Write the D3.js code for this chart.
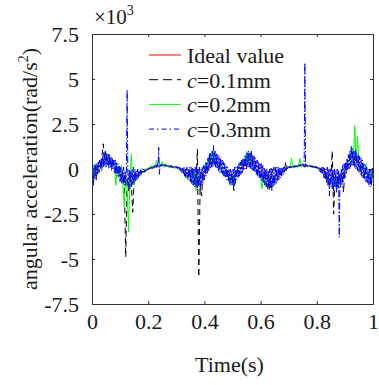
<!DOCTYPE html>
<html>
<head>
<meta charset="utf-8">
<script src="https://cdn.jsdelivr.net/npm/d3@7"></script>
<style>
  body { margin: 0; background: #fff; }
  svg { display: block; font-family: "Liberation Serif", "Times New Roman", serif; }
  .axis path, .axis line { stroke: #333; }
  .axis text { fill: #1a1a1a; font-size: 22px; font-family: "Liberation Serif", serif; }
</style>
</head>
<body>
<div id="chart"></div>
<script>
// values in x10^3 rad/s^2, time in s
const xTicks = [0, 0.2, 0.4, 0.6, 0.8, 1]
const yTicks = [-7.5, -5, -2.5, 0, 2.5, 5, 7.5]

const ideal = [
  [0, -0.3], [0.02, 0], [0.046, 0.55], [0.08, 0.2], [0.1, -0.25], [0.13, -0.55], [0.16, -0.3],
  [0.2, 0], [0.25, 0.2], [0.3, 0.1], [0.35, -0.3], [0.38, -0.5], [0.4, -0.2], [0.43, 0.5],
  [0.46, 0.2], [0.5, -0.4], [0.53, 0], [0.56, 0.5], [0.6, 0], [0.63, -0.5], [0.66, -0.3],
  [0.7, 0.1], [0.75, 0.2], [0.8, 0.1], [0.85, -0.3], [0.87, -0.6], [0.9, -0.1], [0.93, 0.6],
  [0.96, 0.1], [1, -0.4],
]

// c = 0.1 mm, sampled every 5 ms
const stepC01 = 0.005
const c01 = [
  -0.3, -0.8, 0.1, -0.4, 0.2, 0.1, 0.3, 0.6, 1.4, 0.4,
  0.7, 0.3, 0.8, 0.2, 0.6, 0.3, 0.3, 0, -0.2, -0.1,
  -0.3, -0.6, -0.5, -0.9, -4.9, -0.5, -1.2, -0.4, -0.8, -2.4,
  -0.6, -0.2, -0.5, -0.3, -0.2, -0.1, -0.15, -0.05, -0.1, 0,
  0.05, 0, 0.1, 0.05, 0.1, 0.15, 0.2, 0.15, 0.2, 0.2,
  0.2, 0.25, 0.15, 0.2, 0.15, 0.1, 0.15, 0.1, 0.1, 0.05,
  0.05, 0.1, 0, -0.1, -0.1, -0.2, -0.2, -0.5, -0.3, -0.2,
  -0.7, -0.1, -0.5, -0.2, -0.8, 1.1, -6.0, -0.8, -1.5, -0.3,
  -0.3, 0, 0.2, 0.4, 0.6, 0.3, 0.4, 0.9, 0.7, 0.3,
  0.1, 0.4, 0.3, 0, -0.3, 0, -0.2, -0.4, -0.6, -0.3,
  -0.4, -1.2, -0.5, -0.2, -0.1, 0.1, 0, 0.2, 0.4, 0.2,
  0.6, 0.3, 0.3, 0.8, 0.7, 0.2, 0, 0.2, -0.2, 0,
  -0.4, -0.2, -0.6, -0.3, -0.9, -0.3, -1.2, -0.4, -1.0, -0.6,
  -0.5, -0.3, -0.3, -0.2, -0.2, -0.1, -0.1, 0, 0.4, 0.05,
  0.1, 0.1, 0.1, 0.15, 0.1, 0.15, 0.15, 0.2, 0.2, 0.25,
  0.3, 0.2, 0.15, 0.2, 0.15, 0.15, 0.15, 0.1, 0.1, 0.1,
  0.05, 0, -0.1, -0.2, -0.1, -0.3, -0.5, -0.2, -0.9, -0.3,
  -0.4, 1.0, -2.5, -0.6, -0.8, -1.0, -0.3, -0.7, -0.4, -1.3,
  -0.1, 0.1, 0.3, 0.5, 0.7, 0.4, 0.4, 0.8, 0.5, 0.3,
  0.1, 0.2, 0, -0.1, -0.3, -0.2, -0.5, -0.4, -0.6, -0.5,
  -0.3,
]

// c = 0.2 mm, sampled every 5 ms
const stepC02 = 0.005
const c02 = [
  0.2, -0.4, 0.3, -0.3, -0.2, 0.3, 0.4, 0.1, 0.1, 0.6,
  0.9, 0.2, 0.7, 0.3, 0, 0.5, 0.4, -0.9, 0.1, -0.1,
  -0.4, 0.2, -0.8, -2.1, -0.3, -1.0, -3.5, -0.5, 0.8, -0.7,
  -0.9, -0.3, -0.5, -0.2, -0.1, 0, 0, -0.05, 0, 0,
  0.05, 0.1, 0.2, 0.1, 0.05, 0.1, 0.5, 0.1, 0.2, 0.15,
  0.4, 0.1, 0.3, 0.2, 0.15, 0.1, 0.1, 0.15, 0.1, 0.05,
  0.05, 0.05, 0, -0.1, -0.1, -0.05, -0.2, -0.3, -0.6, 0,
  -0.4, 0, -0.9, 0, -1.2, -0.3, -0.8, -0.2, -0.2, 0.1,
  -0.1, 0.4, 0, 0.5, 0.9, 0.3, 1.0, 0.3, 0.7, 0.2,
  0.1, 0.4, 0.3, -0.1, -0.4, 0, -0.1, -0.5, -0.9, -0.3,
  -0.3, -0.8, -0.2, -0.3, 0, 0.1, 0.3, 0.2, 0.6, 0.2,
  1.0, 0.3, 0.9, 0.2, 0.6, 0.2, 0, -0.1, -0.3, -0.1,
  -0.5, -1.1, -0.4, -0.6, -0.8, -0.3, -0.5, -0.7, -1.0, -0.4,
  -0.6, -0.2, -0.2, -0.3, -0.3, 0, 0.1, -0.1, -0.1, 0.05,
  0.05, 0.1, 0.6, 0.05, 0.1, 0.15, 0.2, 0.15, 0.6, 0.1,
  0.3, 0.2, 0.2, 0.15, 0.15, 0.2, 0.15, 0.1, 0.1, 0.1,
  0.05, 0, 0, -0.1, -0.1, -0.2, -0.3, -0.4, -0.6, -0.3,
  -0.4, -0.6, -0.8, -0.5, -0.5, -0.9, -0.7, -0.4, -0.2, 0,
  0, 0.3, 0.5, 0.2, 0.3, 1.2, 0.4, 2.4, 0.5, 1.8,
  0.2, 0.3, -0.1, 0, -0.3, 0.3, -0.5, -0.2, -0.3, -0.8,
  -0.3,
]

// c = 0.3 mm, sampled every 2.5 ms
const stepC03 = 0.0025
const c03 = [
  -0.6, 0.1, -0.9, 0.2, -0.5, 0.2, -0.6, 0.3, -0.3, 0.4, -0.2, 0.5, 0, 0.6, -0.1, 0.7, 0.1, 0.9, 0.2, 1.0,
  0.1, 0.9, 0.2, 0.8, 0, 0.8, 0.1, 0.7, -0.1, 0.6, 0, 0.5, -0.2, 0.5, -0.3, 0.4, -0.4, 0.3, -0.5, 0.2,
  -0.7, 0.1, -0.8, 0, -0.8, 0.1, -0.9, -0.1, -0.9, 0, 4.4, -0.2, -1.0, 0, -1.1, -0.1, -1.0, 0, -0.9, 0.1,
  -0.8, 0, -0.7, -0.1, -0.6, 0, -0.5, -0.1, -0.4, 0, -0.3, -0.1, -0.2, 0, -0.2, -0.05, -0.15, 0, -0.1, 0,
  -0.05, 0.05, 0, 0.1, 0, 0.1, 0.05, 0.15, 0.05, 0.2, 0.1, 0.2, 0.05, 0.3, 0.1, 1.2, -0.3, 0.25, 0.15, 0.25,
  0.15, 0.25, 0.2, 0.25, 0.15, 0.25, 0.15, 0.2, 0.1, 0.2, 0.15, 0.2, 0.1, 0.2, 0.1, 0.15, 0.05, 0.15, 0.1, 0.15,
  0.05, 0.15, 0, 0.1, -0.05, 0.1, -0.1, 0.05, -0.2, 0.05, -0.3, 0.1, -0.4, 0.05, -0.4, 0.1, -0.5, 0, -0.6, 0.1,
  -0.7, 0.1, -0.8, 0.1, -0.9, 0, -1.0, 0.1, -1.0, 0.2, -1.1, 0, -1.0, 0.1, -1.2, 0, -0.9, 0.1, -0.8, 0.2,
  -0.6, 0.3, -0.4, 0.4, -0.3, 0.6, -0.1, 0.8, 0, 0.9, 0.1, 1.0, 0.1, 1.3, 0.2, 1.0, 0.1, 0.9, 0, 0.8,
  -0.1, 0.7, -0.2, 0.6, -0.2, 0.5, -0.3, 0.4, -0.4, 0.3, -0.5, 0.2, -0.6, 0.1, -0.7, 0, -0.8, 0, -0.9, -0.1,
  -0.9, 0, -1.0, 0.1, -0.8, 0.1, -0.6, 0.2, -0.5, 0.3, -0.4, 0.4, -0.3, 0.5, -0.2, 0.6, -0.1, 0.7, 0, 0.8,
  0, 0.9, 0.1, 1.0, 0.1, 0.9, 0, 1.0, -0.1, 0.8, -0.1, 0.7, -0.2, 0.6, -0.3, 0.5, -0.4, 0.4, -0.5, 0.3,
  -0.5, 0.3, -0.7, 0.2, -0.8, 0.1, -0.9, 0, -1.0, 0, -1.1, -0.1, -1.0, 0, -1.1, 0.1, -1.2, 0, -1.0, 0.1,
  -0.9, 0.1, -0.8, 0.1, -0.7, 0.1, -0.6, 0.05, -0.5, 0.1, -0.4, 0.05, -0.3, 0.1, -0.2, 0.1, -0.1, 0.1, 0, 0.1,
  0.05, 0.15, 0.05, 0.15, 0.05, 0.15, 0.1, 0.2, 0.1, 0.2, 0.1, 0.2, 0.1, 0.2, 0.15, 0.25, 0.15, 0.25, 0.15, 0.25,
  0.15, 0.25, 0.1, 5.9, 0.1, 0.25, 0.15, 0.2, 0.1, 0.2, 0.15, 0.2, 0.1, 0.2, 0.1, 0.15, 0.05, 0.15, 0.05, 0.15,
  0.05, 0.1, 0, 0.1, -0.1, 0.05, -0.2, 0.1, -0.3, 0.1, -0.5, 0.1, -0.6, 0, -0.8, 0.1, -0.9, 0, -1.5, 0,
  -1.0, 0.1, -1.1, 0, -1.2, 0, -1.0, -0.1, -1.3, 0, -1.1, -0.1, -3.8, -0.2, -1.0, 0, -0.9, 0.2, -0.7, 0.3,
  -0.5, 0.4, -0.3, 0.6, -0.1, 0.8, 0, 1.0, 0.1, 1.3, 0.2, 1.1, 0.2, 1.0, 0.1, 1.1, 0, 0.9, -0.1, 0.8,
  -0.2, 0.7, -0.3, 0.6, -0.4, 0.5, -0.5, 0.3, -0.6, 0.2, -0.7, 0.1, -0.8, 0, -0.9, 0, -1.0, 0, -0.9, 0.1,
  -0.5,
]

const seriesNames = ['Ideal value', 'c=0.1mm', 'c=0.2mm', 'c=0.3mm']

const width = 379
const height = 385
const margin = { top: 34, right: 6, bottom: 81, left: 92 }
const innerW = width - margin.left - margin.right
const innerH = height - margin.top - margin.bottom

const svg = d3.select('#chart').append('svg').attr('width', width).attr('height', height)

const x = d3.scaleLinear().domain([0, 1]).range([0, innerW])
const y = d3.scaleLinear().domain([-7.5, 7.5]).range([innerH, 0])

const g = svg.append('g').attr('transform', `translate(${margin.left},${margin.top})`)

g.append('clipPath').attr('id', 'clip')
  .append('rect').attr('width', innerW).attr('height', innerH)

const line = d3.line().x((d) => x(d[0])).y((d) => y(d[1]))
const onGrid = (values, step) => values.map((v, i) => [i * step, v])

const series = [
  { name: seriesNames[0], data: ideal, color: '#ff0000', dash: null, legendDash: null },
  { name: seriesNames[1], data: onGrid(c01, stepC01), color: '#000000', dash: '6,4', legendDash: '9,5' },
  { name: seriesNames[2], data: onGrid(c02, stepC02), color: '#00ff00', dash: null, legendDash: null },
  { name: seriesNames[3], data: onGrid(c03, stepC03), color: '#0000ff', dash: '7,2,1.5,2', legendDash: '5,3,1.5,3' },
]

const plotG = g.append('g').attr('clip-path', 'url(#clip)')
plotG.selectAll('path')
  .data(series)
  .join('path')
  .attr('fill', 'none')
  .attr('stroke', (d) => d.color)
  .attr('stroke-width', 1)
  .attr('stroke-dasharray', (d) => d.dash)
  .attr('d', (d) => line(d.data))

// axes, box with inward ticks
const fmt = (d) => String(d)
g.append('g').attr('class', 'axis x-bottom')
  .attr('transform', `translate(0,${innerH})`)
  .call(d3.axisBottom(x).tickValues(xTicks).tickSize(-3).tickFormat(fmt))
g.append('g').attr('class', 'axis')
  .call(d3.axisTop(x).tickValues(xTicks).tickSize(-3).tickFormat(''))
g.append('g').attr('class', 'axis')
  .call(d3.axisLeft(y).tickValues(yTicks).tickSize(-3).tickPadding(13).tickFormat(fmt))
g.append('g').attr('class', 'axis')
  .attr('transform', `translate(${innerW},0)`)
  .call(d3.axisRight(y).tickValues(yTicks).tickSize(-3).tickFormat(''))
g.selectAll('.axis text').attr('dy', null).attr('dominant-baseline', 'central')
g.select('.x-bottom').selectAll('text').attr('y', 17)

// exponent label
const expo = svg.append('text').attr('x', 94).attr('y', 24)
  .style('font-size', '21px').attr('fill', '#1a1a1a')
expo.append('tspan').text('×10')
expo.append('tspan').text('3').attr('dy', -9).style('font-size', '14px')

// axis titles
svg.append('text')
  .attr('x', margin.left + innerW / 2 - 3).attr('y', 372)
  .attr('text-anchor', 'middle').style('font-size', '22px').attr('fill', '#1a1a1a')
  .text('Time(s)')

const ylab = svg.append('text')
  .attr('transform', `translate(37,${margin.top + innerH / 2}) rotate(-90)`)
  .attr('text-anchor', 'middle').style('font-size', '22px').attr('fill', '#1a1a1a')
ylab.append('tspan').text('angular acceleration(rad/s')
ylab.append('tspan').text('2').attr('dy', -9).style('font-size', '14px')
ylab.append('tspan').text(')').attr('dy', 9)

// legend
const legend = svg.append('g').attr('transform', 'translate(149,55)')
const rows = legend.selectAll('g').data(series).join('g')
  .attr('transform', (d, i) => `translate(0,${i * 24.7})`)
rows.append('line')
  .attr('x1', 0).attr('x2', 32).attr('y1', 0).attr('y2', 0)
  .attr('stroke', (d) => d.color).attr('stroke-width', 1)
  .attr('stroke-dasharray', (d) => d.legendDash)
rows.each(function (d) {
  const t = d3.select(this).append('text').attr('x', 38).attr('y', 0)
    .attr('dominant-baseline', 'central').style('font-size', '22px').attr('fill', '#1a1a1a')
  if (d.name.startsWith('c=')) {
    t.append('tspan').text('c').style('font-style', 'italic')
    t.append('tspan').text(d.name.slice(1))
  } else {
    t.text(d.name)
  }
})
</script>
</body>
</html>
